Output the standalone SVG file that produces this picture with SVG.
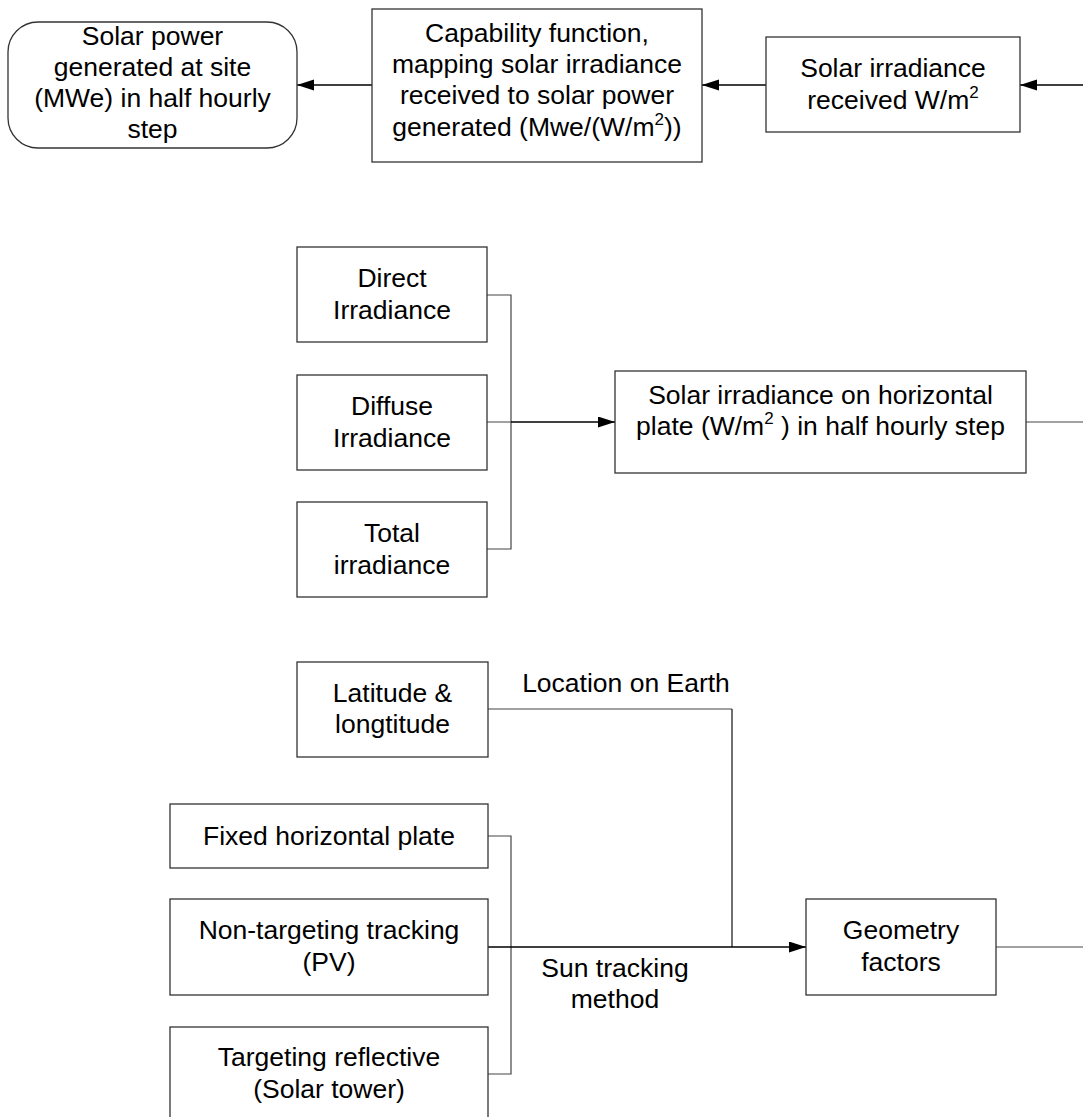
<svg xmlns="http://www.w3.org/2000/svg" width="1083" height="1117" viewBox="0 0 1083 1117">
<defs>
<style>
.box{fill:#fff;stroke:#333;stroke-width:1.3}
.t{font-family:"Liberation Sans",Arial,sans-serif;font-size:26.5px;fill:#000;text-anchor:middle}
.lbl{font-family:"Liberation Sans",Arial,sans-serif;font-size:26.5px;fill:#000;text-anchor:middle}
.c{fill:none;stroke:#444;stroke-width:1.2}
.a{fill:none;stroke:#000;stroke-width:1.3;marker-end:url(#ah)}
.sup{font-size:17px}
</style>
<marker id="ah" markerUnits="userSpaceOnUse" markerWidth="18" markerHeight="12" refX="17" refY="5.5" orient="auto">
<path d="M0,0 L17,5.5 L0,11 Z" fill="#000"/>
</marker>
</defs>
<rect width="1083" height="1117" fill="#fff"/>

<g id="connectors">
<path class="a" d="M372,85 H297"/>
<path class="a" d="M766,85 H702"/>
<path class="a" d="M1083,85 H1020"/>
<path class="c" d="M487,295 H511 V549 H487 M487,422 H511"/>
<path class="a" d="M511,422 H615"/>
<path class="c" d="M1026,422 H1083"/>
<path class="c" d="M488,709 H732"/>
<path fill="none" stroke="#111" stroke-width="1.2" d="M732,709 V947"/>
<path class="c" d="M488,836 H511 V1074 H488"/>
<path class="a" d="M488,947 H806"/>
<path class="c" d="M996,947 H1083"/>
<text class="lbl" x="626" y="692">Location on Earth</text>
<text class="lbl" x="615" y="977">Sun tracking</text>
<text class="lbl" x="615" y="1008">method</text>
</g>

<g id="n-power">
<rect class="box" x="8" y="22" width="289" height="126" rx="30" ry="30"/>
<text class="t" x="152.5" y="45">Solar power</text>
<text class="t" x="152.5" y="76">generated at site</text>
<text class="t" x="152.5" y="107">(MWe) in half hourly</text>
<text class="t" x="152.5" y="138">step</text>
</g>

<g id="n-capability">
<rect class="box" x="372" y="9" width="330" height="153"/>
<text class="t" x="537" y="42">Capability function,</text>
<text class="t" x="537" y="73">mapping solar irradiance</text>
<text class="t" x="537" y="104">received to solar power</text>
<text class="t" x="537" y="136">generated (Mwe/(W/m<tspan class="sup" dy="-11">2</tspan><tspan dy="11">))</tspan></text>
</g>

<g id="n-received">
<rect class="box" x="766" y="37" width="254" height="95"/>
<text class="t" x="893" y="77">Solar irradiance</text>
<text class="t" x="893" y="109">received W/m<tspan class="sup" dy="-11">2</tspan></text>
</g>

<g id="n-direct">
<rect class="box" x="297" y="247" width="190" height="95"/>
<text class="t" x="392" y="287">Direct</text>
<text class="t" x="392" y="319">Irradiance</text>
</g>

<g id="n-diffuse">
<rect class="box" x="297" y="375" width="190" height="95"/>
<text class="t" x="392" y="415">Diffuse</text>
<text class="t" x="392" y="447">Irradiance</text>
</g>

<g id="n-total">
<rect class="box" x="297" y="502" width="190" height="95"/>
<text class="t" x="392" y="542">Total</text>
<text class="t" x="392" y="574">irradiance</text>
</g>

<g id="n-horizontal">
<rect class="box" x="615" y="371" width="411" height="102"/>
<text class="t" x="820.5" y="404">Solar irradiance on horizontal</text>
<text class="t" x="820.5" y="435">plate (W/m<tspan class="sup" dy="-11">2</tspan><tspan dy="11"> ) in half hourly step</tspan></text>
</g>

<g id="n-latitude">
<rect class="box" x="297" y="662" width="191" height="95"/>
<text class="t" x="392.5" y="702">Latitude &amp;</text>
<text class="t" x="392.5" y="733">longtitude</text>
</g>

<g id="n-fixed">
<rect class="box" x="170" y="804" width="318" height="64"/>
<text class="t" x="329" y="845">Fixed horizontal plate</text>
</g>

<g id="n-nontargeting">
<rect class="box" x="170" y="899" width="318" height="96"/>
<text class="t" x="329" y="939">Non-targeting tracking</text>
<text class="t" x="329" y="971">(PV)</text>
</g>

<g id="n-targeting">
<rect class="box" x="170" y="1027" width="318" height="110"/>
<text class="t" x="329" y="1066">Targeting reflective</text>
<text class="t" x="329" y="1098">(Solar tower)</text>
</g>

<g id="n-geometry">
<rect class="box" x="806" y="899" width="190" height="96"/>
<text class="t" x="901" y="939">Geometry</text>
<text class="t" x="901" y="971">factors</text>
</g>
</svg>
